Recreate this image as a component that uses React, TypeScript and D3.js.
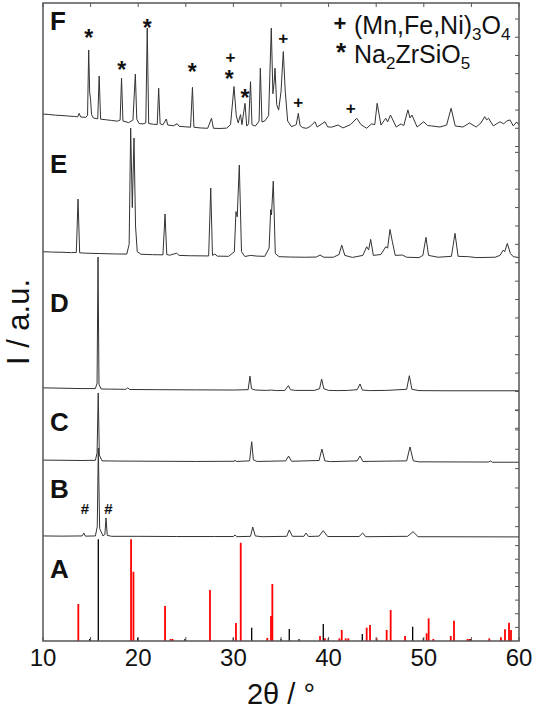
import React from 'react';
import * as d3 from 'd3';

// XRD patterns: [2theta, intensity in counts]
const patternF = [
  [10.0, 178], [10.6, 176], [11.3, 172], [12.0, 170], [12.7, 167], [13.3, 165], [13.65, 163], [13.8, 182], [13.95, 162],
  [14.5, 160], [14.68, 172], [14.8, 530], [14.9, 300], [15.0, 256], [15.1, 175], [15.3, 156], [15.75, 152], [15.9, 387],
  [16.05, 150], [16.6, 147], [17.2, 143], [17.8, 139], [18.1, 145], [18.25, 375], [18.4, 140], [19.0, 131], [19.45, 145],
  [19.6, 300], [19.7, 398], [19.85, 150], [20.1, 126], [20.5, 124], [20.8, 130], [20.95, 650], [21.1, 126], [21.6, 122],
  [22.0, 121], [22.15, 320], [22.3, 125], [22.6, 119], [22.95, 151], [23.1, 118], [23.7, 114], [24.1, 125], [24.3, 111],
  [25.0, 108], [25.5, 106], [25.7, 325], [25.85, 106], [26.5, 102], [27.3, 100], [27.7, 155], [27.9, 100], [28.6, 99],
  [29.3, 101], [29.7, 120], [30.06, 329], [30.3, 170], [30.5, 130], [30.75, 175], [30.9, 120], [31.22, 237], [31.4, 112],
  [31.6, 125], [31.8, 356], [31.95, 120], [32.3, 112], [32.55, 129], [32.7, 140], [32.83, 430], [33.0, 135], [33.3, 140],
  [33.7, 170], [33.98, 650], [34.15, 290], [34.3, 365], [34.37, 430], [34.55, 230], [34.75, 200], [35.0, 300], [35.24, 521],
  [35.45, 300], [35.7, 140], [36.1, 109], [36.4, 115], [36.6, 120], [36.82, 182], [37.0, 115], [37.3, 103], [37.7, 100],
  [38.05, 110], [38.57, 136], [38.8, 107], [39.62, 136], [39.9, 108], [40.3, 106], [41.0, 118], [41.5, 102], [42.3, 120],
  [42.96, 155], [43.4, 120], [44.0, 100], [44.5, 124], [44.85, 120], [45.1, 237], [45.5, 118], [46.0, 155], [46.2, 135],
  [46.5, 173], [47.1, 107], [47.6, 124], [47.9, 115], [48.33, 201], [48.55, 157], [48.75, 173], [49.3, 107], [50.0, 136],
  [50.4, 115], [50.8, 113], [51.7, 107], [52.4, 118], [52.87, 210], [53.3, 113], [54.1, 107], [54.8, 129], [55.5, 107],
  [56.0, 129], [56.4, 164], [56.6, 146], [56.8, 155], [57.3, 113], [58.0, 136], [58.4, 124], [58.7, 140], [59.05, 146],
  [59.4, 113], [59.75, 135], [60.0, 118],
];

const patternE = [
  [10, 1060], [11, 1058], [12, 1057], [13, 1055], [13.5, 1056], [13.68, 1346], [13.85, 1054], [14.5, 1052], [16, 1050],
  [17.5, 1048], [18.8, 1047], [19.05, 1100], [19.21, 1732], [19.38, 1300], [19.56, 1678], [19.72, 1200], [19.9, 1060],
  [20.3, 1046], [21.5, 1044], [22.6, 1043], [22.82, 1265], [23.0, 1045], [23.3, 1041], [24.04, 1052], [24.3, 1040],
  [25.5, 1038], [27.4, 1037], [27.62, 1406], [27.8, 1040], [28.05, 1048], [28.3, 1036], [29.5, 1035], [30.1, 1060],
  [30.27, 1278], [30.4, 1250], [30.62, 1531], [30.85, 1060], [31.2, 1034], [31.8, 1040], [32.5, 1036], [33.3, 1035],
  [33.75, 1080], [33.92, 1289], [34.0, 1260], [34.19, 1444], [34.4, 1050], [34.8, 1033], [36, 1031], [37.5, 1030],
  [38.7, 1031], [39.1, 1042], [39.5, 1030], [40.5, 1030], [41.1, 1045], [41.38, 1096], [41.7, 1040], [42.5, 1029],
  [43.6, 1040], [44.0, 1087], [44.2, 1070], [44.42, 1127], [44.7, 1040], [45.5, 1045], [46.0, 1087], [46.2, 1080],
  [46.45, 1181], [46.7, 1114], [47.0, 1040], [47.75, 1042], [48.2, 1030], [49.5, 1028], [49.9, 1040], [50.23, 1138],
  [50.5, 1040], [51.5, 1030], [52.9, 1035], [53.28, 1160], [53.6, 1035], [54.7, 1033], [55.5, 1028], [57.5, 1030],
  [58.0, 1040], [58.35, 1069], [58.5, 1060], [58.77, 1105], [59.1, 1050], [59.4, 1033], [60, 1028],
];

const patternD = [
  [10, 320], [12, 318], [14, 316], [15.5, 316], [15.68, 345], [15.78, 1031], [15.88, 340], [16.1, 314], [17, 313],
  [18.7, 312], [18.9, 320], [19.1, 311], [22, 310], [26, 309], [30, 308], [31.55, 310], [31.74, 384], [31.9, 315],
  [32.3, 308], [33.5, 306], [34.0, 308], [34.5, 305], [35.4, 306], [35.77, 332], [36.0, 310], [36.5, 306], [38.5, 306],
  [39.05, 315], [39.27, 368], [39.5, 315], [40.0, 306], [41, 305], [42, 306], [43.0, 310], [43.3, 341], [43.55, 308],
  [44.3, 305], [46, 306], [48.2, 312], [48.48, 386], [48.75, 312], [49.5, 305], [52, 304], [56, 304], [60, 304],
];

const patternC = [
  [10, 444], [12, 443], [14, 442], [15.5, 443], [15.68, 480], [15.8, 791], [15.92, 470], [16.2, 440], [18, 439],
  [22, 438], [26, 437], [30.1, 438], [30.17, 444], [30.3, 437], [31.7, 440], [31.92, 539], [32.1, 445], [32.5, 437],
  [35.5, 440], [35.8, 465], [36.1, 438], [39.0, 442], [39.3, 501], [39.6, 440], [40.2, 436], [43.0, 440], [43.3, 465],
  [43.6, 437], [48.2, 440], [48.55, 512], [48.9, 440], [49.5, 435], [56.8, 434], [57.0, 439], [57.2, 433], [60, 433],
];

const patternB = [
  [10, 52], [12, 51], [14.1, 52], [14.3, 67], [14.45, 51], [15.5, 52], [15.7, 100], [15.81, 506], [15.95, 90], [16.3, 52],
  [16.5, 60], [16.62, 145], [16.75, 55], [17.2, 50], [20, 50], [24, 49], [28, 49], [30.0, 49], [30.17, 57], [30.35, 48],
  [31.8, 50], [32.03, 98], [32.3, 52], [33, 48], [35.6, 50], [35.87, 83], [36.2, 50], [37.4, 50], [37.63, 67], [37.9, 49],
  [39.0, 51], [39.44, 79], [39.9, 49], [43.2, 49], [43.58, 67], [43.9, 48], [48.3, 50], [48.87, 74], [49.4, 48], [60, 47],
];

// reference lines (relative intensity, %)
const refRed = [
  [13.71, 36.4], [19.25, 100], [19.5, 68.1], [22.82, 34.4], [23.4, 2], [23.6, 2], [27.54, 50.1], [30.27, 17.7],
  [30.77, 96.6], [33.56, 3], [33.95, 24.6], [34.09, 56], [39.1, 4.9], [39.62, 2.6], [41.13, 2.6], [41.38, 10.8],
  [41.8, 2.6], [42.07, 2.6], [44.0, 13.1], [44.35, 15.7], [45.05, 2.6], [46.1, 10.8], [46.52, 30.5], [48.03, 4.9],
  [50.3, 7.6], [50.51, 22.3], [51.0, 2], [52.83, 4.9], [53.17, 20], [54.6, 2], [54.8, 2], [56.88, 2.6], [58.1, 3.6],
  [58.53, 11.5], [58.95, 18], [59.16, 10.8],
];
const refBlack = [
  [14.9, 2], [15.81, 100], [19.95, 3.2], [24.9, 2], [29.99, 3], [31.92, 13.1], [35.0, 2], [35.87, 11.8], [36.9, 2],
  [39.44, 16.7], [39.97, 2.6], [43.54, 6.9], [48.83, 14.1], [49.95, 2.6], [54.9, 2],
];

// phase markers: [2theta, counts]
const starMarks = [[14.8, 624], [18.27, 448], [20.96, 679], [25.68, 437], [29.57, 398], [31.22, 294]];
const plusMarks = [[29.7, 492], [35.24, 596], [36.82, 245], [42.32, 212]];
const hashMarks = [[14.41, 196], [16.86, 196]];

const panelLetters = ['F', 'E', 'D', 'C', 'B', 'A'];
const letterBaselines = [30, 173, 312, 431, 498, 578];

const W = 533;
const H = 712;
const L = 43, R = 519, T = 3, B = 641;
const FONT = "'Liberation Sans', Arial, Helvetica, sans-serif";

export default function App() {
  const x = d3.scaleLinear().domain([10, 60]).range([L, R]);
  const yF = d3.scaleLinear().domain([0, 788]).range([146.5, T]);
  const yED = d3.scaleLinear().domain([0, 1632]).range([446.7, 146.5]);
  const yCB = d3.scaleLinear().domain([0, 796]).range([546, 392]);
  const yA = d3.scaleLinear().domain([0, 100]).range([B, 539.3]);

  const lineFor = (ys) => d3.line().x(d => x(d[0])).y(d => ys(d[1]));

  const curves = [
    { data: patternF, ys: yF },
    { data: patternE, ys: yED },
    { data: patternD, ys: yED },
    { data: patternC, ys: yCB },
    { data: patternB, ys: yCB },
  ];

  const rightTicks = [
    ...d3.range(0, 701, 100).map(v => yF(v)),
    ...d3.range(100, 1601, 100).map(v => yED(v)),
    ...d3.range(100, 701, 100).map(v => yCB(v)),
    ...d3.range(1, 8).map(k => yA(k * 13.4)),
  ];

  const xTicks = x.ticks(10);
  const xLabels = d3.range(10, 61, 10);

  return (
    <svg width={W} height={H} style={{ display: 'block', position: 'absolute', left: 0, top: 0, background: '#fff' }}>
      {/* reference lines, A */}
      {refBlack.map((d, i) => (
        <line key={'b' + i} x1={x(d[0])} x2={x(d[0])} y1={yA(0)} y2={yA(d[1])} stroke="#000" strokeWidth={1.3} />
      ))}
      {refRed.map((d, i) => (
        <line key={'r' + i} x1={x(d[0])} x2={x(d[0])} y1={yA(0)} y2={yA(d[1])} stroke="#ff0000" strokeWidth={1.8} />
      ))}

      {/* patterns */}
      {curves.map((c, i) => (
        <path key={i} d={lineFor(c.ys)(c.data)} fill="none" stroke="#333" strokeWidth={1} strokeLinejoin="round" />
      ))}

      {/* frame */}
      <rect x={L} y={T} width={R - L} height={B - T} fill="none" stroke="#555" strokeWidth={1.5} />
      {xTicks.map(t => (
        <g key={'xt' + t}>
          <line x1={x(t)} x2={x(t)} y1={B} y2={B - 4} stroke="#555" strokeWidth={1} />
          <line x1={x(t)} x2={x(t)} y1={T} y2={T + 4} stroke="#555" strokeWidth={1} />
        </g>
      ))}
      {rightTicks.map((y, i) => (
        <line key={'rt' + i} x1={R} x2={R - 4} y1={y} y2={y} stroke="#555" strokeWidth={1} />
      ))}

      {/* markers */}
      <g fontFamily={FONT} fontWeight="bold" fill="#111" textAnchor="middle">
        {starMarks.map((d, i) => (
          <text key={'s' + i} x={x(d[0])} y={yF(d[1]) + 13} fontSize={23}>*</text>
        ))}
        {plusMarks.map((d, i) => (
          <text key={'p' + i} x={x(d[0])} y={yF(d[1]) + 6} fontSize={17}>+</text>
        ))}
        {hashMarks.map((d, i) => (
          <text key={'h' + i} x={x(d[0])} y={yCB(d[1]) + 6} fontSize={15}>#</text>
        ))}
      </g>

      {/* legend */}
      <g fontFamily={FONT} fill="#111" fontSize={25}>
        <text x={340} y={31} fontWeight="bold" textAnchor="middle" fontSize={22}>+</text>
        <text x={354} y={34}>
          (Mn,Fe,Ni)<tspan fontSize={17} dy={6}>3</tspan><tspan dy={-6}>O</tspan><tspan fontSize={17} dy={6}>4</tspan>
        </text>
        <text x={341} y={61} fontWeight="bold" textAnchor="middle" fontSize={26}>*</text>
        <text x={354} y={63}>
          Na<tspan fontSize={17} dy={6}>2</tspan><tspan dy={-6}>ZrSiO</tspan><tspan fontSize={17} dy={6}>5</tspan>
        </text>
      </g>

      {/* panel letters */}
      {panelLetters.map((p, i) => (
        <text key={p} x={50} y={letterBaselines[i]} fontFamily={FONT} fontWeight="bold" fontSize={26} fill="#111">{p}</text>
      ))}

      {/* axis labels */}
      <g fontFamily={FONT} fill="#111">
        {xLabels.map(t => (
          <text key={'xl' + t} x={x(t)} y={666} fontSize={24} textAnchor="middle">{t}</text>
        ))}
        <text x={(L + R) / 2} y={704} fontSize={29} textAnchor="middle">2θ / °</text>
        <text transform={`translate(29, ${(T + B) / 2}) rotate(-90)`} fontSize={31} textAnchor="middle">I / a.u.</text>
      </g>
    </svg>
  );
}
